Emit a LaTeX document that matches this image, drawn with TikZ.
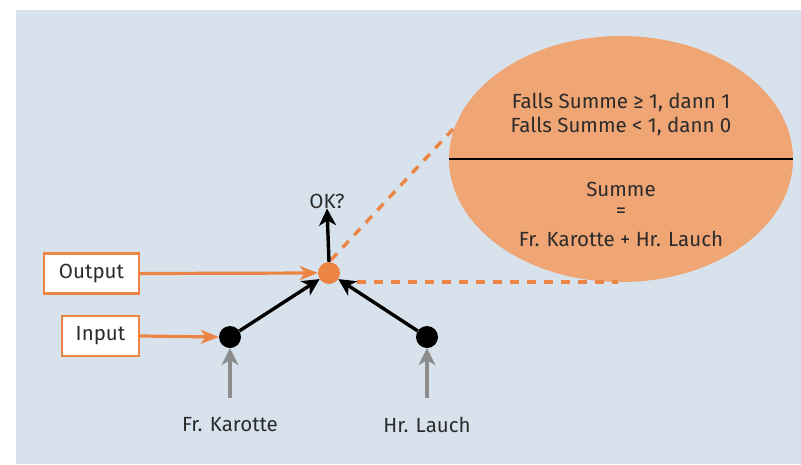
\documentclass[tikz,border=0pt]{standalone}
\usepackage{fontspec}
\setmainfont{Fira Sans}
\usetikzlibrary{arrows.meta,shapes.geometric}
\definecolor{bgblue}{HTML}{D8E2EC}
\definecolor{salmon}{HTML}{F0A575}
\definecolor{accent}{HTML}{EC8444}
\definecolor{txt}{HTML}{2B2B2B}
\definecolor{feed}{HTML}{8C8C8C}
\tikzset{
  lbl/.style={text=txt, font=\fontsize{20.5}{24}\selectfont, inner sep=0pt},
  tagbox/.style={draw=accent, line width=2.4pt, fill=white, text=txt,
    font=\fontsize{20.5}{24}\selectfont, minimum height=40pt, inner sep=0pt},
  neuron/.style={circle, fill=black, minimum size=22pt, inner sep=0pt},
  outnode/.style={circle, fill=accent, minimum size=22pt, inner sep=0pt},
  blackarrow/.style={line width=3.4pt, -{Stealth[length=17pt, width=17pt, inset=5pt]}},
  orangearrow/.style={draw=accent, line width=3.2pt, -{Stealth[length=18pt, width=14pt, inset=5pt]}},
  grayarrow/.style={draw=feed, line width=3.4pt, -{Stealth[length=17pt, width=17pt, inset=5pt]}},
  guide/.style={draw=accent, line width=3.4pt, dash pattern=on 9pt off 8pt},
}
\begin{document}
\begin{tikzpicture}[x=1pt, y=-1pt]
  \useasboundingbox (0,0) rectangle (801,464);
  \fill[bgblue] (16,10) rectangle (801,464);

  % summary bubble with the threshold rule and the sum
  \fill[salmon] (621,159) ellipse [x radius=172, y radius=123];
  \coordinate (bubL) at (449,159);
  \coordinate (bubR) at (793,159);
  \draw[line width=2.4pt] (bubL) -- (bubR);
  \node[lbl] (rule1) at (621,103) {Falls Summe ≥ 1, dann 1};
  \node[lbl] (rule2) at (621,127) {Falls Summe < 1, dann 0};
  \node[lbl] (sum1) at (621,189) {Summe};
  \node[lbl] (sum2) at (621,213) {=};
  \node[lbl] (sum3) at (621,239) {Fr. Karotte + Hr. Lauch};
  \coordinate (bubTop) at (455,127);
  \coordinate (bubBot) at (618,282);

  % neurons
  \node[outnode] (out) at (329,273) {};
  \node[neuron] (n1) at (230,337) {};
  \node[neuron] (n2) at (427,337) {};

  % guide lines to the bubble
  \draw[guide] (331,260) -- (bubTop);
  \draw[guide] (340,282) -- (bubBot);

  % labels
  \node[tagbox, minimum width=95pt] (output) at (91.5,273.5) {Output};
  \node[tagbox, minimum width=77pt] (input) at (100.5,336) {Input};
  \node[lbl] (ok) at (327,201) {OK?};
  \node[lbl] (kar) at (230,425) {Fr. Karotte};
  \node[lbl] (lau) at (427,425) {Hr. Lauch};
  \coordinate (karS) at (230,398);
  \coordinate (lauS) at (427,398);

  % connectors
  \draw[blackarrow] (n1) -- (out);
  \draw[blackarrow] (n2) -- (out);
  \draw[blackarrow] (out.north) -- (ok.south);
  \draw[orangearrow] (output.east) -- (out.west);
  \draw[orangearrow] (input.east) -- (n1.west);
  \draw[grayarrow] (karS) -- (n1.south);
  \draw[grayarrow] (lauS) -- (n2.south);
\end{tikzpicture}
\end{document}
